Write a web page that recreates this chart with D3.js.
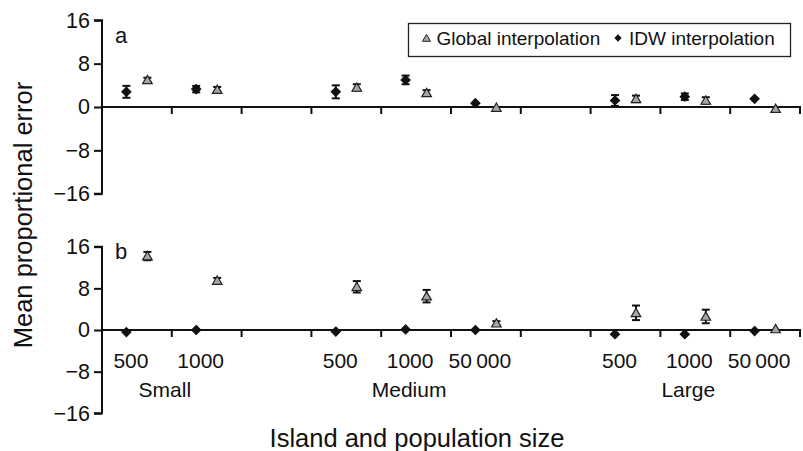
<!DOCTYPE html>
<html>
<head>
<meta charset="utf-8">
<script src="https://cdn.jsdelivr.net/npm/d3@7"></script>
<style>
  body { margin: 0; background: #fff; }
  text { font-family: "Liberation Sans", Arial, Helvetica, sans-serif; fill: #111; }
</style>
</head>
<body>
<div id="chart"></div>
<script>
// slots along the x axis (two empty slots separate the island sizes)
const slots = ["S500", "S1000", "gap1", "M500", "M1000", "M50000", "gap2", "L500", "L1000", "L50000"];
const categories = ["S500", "S1000", "M500", "M1000", "M50000", "L500", "L1000", "L50000"];
const tickLabels = ["500", "1000", "500", "1000", "50\u2009000", "500", "1000", "50\u2009000"];
const groups = [
  { name: "Small", slots: ["S500", "S1000"] },
  { name: "Medium", slots: ["M500", "M1000", "M50000"] },
  { name: "Large", slots: ["L500", "L1000", "L50000"] }
];

// panel a
const idwA = [2.8, 3.3, 2.8, 5.0, 0.7, 1.2, 1.9, 1.5];
const idwAErr = [1.1, 0.6, 1.2, 0.8, 0, 1.0, 0.6, 0];
const globalA = [5.0, 3.2, 3.6, 2.6, -0.1, 1.5, 1.2, -0.3];
const globalAErr = [0.4, 0.5, 0.6, 0.5, 0, 0.6, 0.6, 0];

// panel b
const idwB = [-0.4, 0.0, -0.3, 0.1, 0.0, -0.8, -0.8, -0.2];
const idwBErr = [0, 0, 0, 0, 0, 0, 0, 0];
const globalB = [14.2, 9.5, 8.3, 6.5, 1.3, 3.3, 2.6, 0.2];
const globalBErr = [0.8, 0.5, 1.1, 1.2, 0.4, 1.4, 1.3, 0];

const yTicks = [-16, -8, 0, 8, 16];

const width = 803, height = 451;
const svg = d3.select("#chart").append("svg")
  .attr("width", width)
  .attr("height", height);

const x = d3.scaleBand().domain(slots).range([102, 800]).padding(0);
const bw = x.bandwidth();
const sub = d3.scalePoint().domain(["IDW", "Global"]).range([bw / 2 - 10.5, bw / 2 + 10.5]);

const panels = [
  { label: "a", top: 20.3, bottom: 193.7, idw: idwA, idwErr: idwAErr, glob: globalA, globErr: globalAErr, showTicks: false },
  { label: "b", top: 246.7, bottom: 413.3, idw: idwB, idwErr: idwBErr, glob: globalB, globErr: globalBErr, showTicks: true }
];

const diamondType = d3.symbolDiamond2 || d3.symbolDiamond;
const diamond = d3.symbol().type(diamondType).size(52);
const triangle = d3.symbol().type(d3.symbolTriangle).size(40);

panels.forEach(p => {
  const y = d3.scaleLinear().domain([-16, 16]).range([p.bottom, p.top]);
  const g = svg.append("g");

  // y axis
  const yAxis = g.append("g")
    .attr("transform", `translate(${x.range()[0]},0)`)
    .call(d3.axisLeft(y).tickValues(yTicks).tickSize(8).tickPadding(4)
      .tickFormat(d => d < 0 ? "\u2212" + Math.abs(d) : d));
  yAxis.select(".domain").attr("stroke", "#111").attr("stroke-width", 2)
    .attr("d", `M-8,${y(16)}H0V${y(-16)}H-8`);
  yAxis.selectAll(".tick line").attr("stroke", "#111").attr("stroke-width", 2);
  yAxis.selectAll(".tick text").attr("font-size", 21.5).style("font-family", "'Liberation Sans', Arial, sans-serif").attr("fill", "#111");

  // zero line with ticks
  g.append("line")
    .attr("x1", x.range()[0]).attr("x2", x.range()[1] + 1)
    .attr("y1", y(0)).attr("y2", y(0))
    .attr("stroke", "#111").attr("stroke-width", 2);
  g.selectAll(".xtick").data(slots).enter().append("line")
    .attr("x1", d => x(d) + bw).attr("x2", d => x(d) + bw)
    .attr("y1", y(0)).attr("y2", y(0) + 7)
    .attr("stroke", "#111").attr("stroke-width", 2);

  // panel letter
  g.append("text").attr("x", 115).attr("y", p.label === "a" ? 43 : 259)
    .attr("font-size", 22).text(p.label);

  const series = [
    { key: "IDW", vals: p.idw, err: p.idwErr, sym: diamond, fill: "#111", stroke: "#111" },
    { key: "Global", vals: p.glob, err: p.globErr, sym: triangle, fill: "#a6a6a6", stroke: "#222" }
  ];

  series.forEach(s => {
    const pts = categories.map((c, i) => ({ cx: x(c) + sub(s.key), v: s.vals[i], e: s.err[i] }));
    const eb = g.append("g").selectAll("g").data(pts.filter(d => d.e > 0)).enter().append("g");
    eb.append("line")
      .attr("x1", d => d.cx).attr("x2", d => d.cx)
      .attr("y1", d => y(d.v + d.e)).attr("y2", d => y(d.v - d.e))
      .attr("stroke", "#111").attr("stroke-width", 2);
    eb.append("line")
      .attr("x1", d => d.cx - 4).attr("x2", d => d.cx + 4)
      .attr("y1", d => y(d.v + d.e)).attr("y2", d => y(d.v + d.e))
      .attr("stroke", "#111").attr("stroke-width", 2);
    eb.append("line")
      .attr("x1", d => d.cx - 4).attr("x2", d => d.cx + 4)
      .attr("y1", d => y(d.v - d.e)).attr("y2", d => y(d.v - d.e))
      .attr("stroke", "#111").attr("stroke-width", 2);

    g.append("g").selectAll("path").data(pts).enter().append("path")
      .attr("d", s.sym)
      .attr("transform", d => `translate(${d.cx},${y(d.v) + (s.key === "Global" ? 1 : 0)})`)
      .attr("fill", s.fill).attr("stroke", s.stroke).attr("stroke-width", 1.2);
  });

  if (p.showTicks) {
    g.selectAll(".xlab").data(categories).enter().append("text")
      .attr("x", (d, i) => x(d) + bw / 2 - 6)
      .attr("y", 368)
      .attr("text-anchor", "middle")
      .attr("font-size", 21)
      .text((d, i) => tickLabels[i]);
    g.selectAll(".glab").data(groups).enter().append("text")
      .attr("x", d => (x(d.slots[0]) + x(d.slots[d.slots.length - 1]) + bw) / 2 - 7)
      .attr("y", 397)
      .attr("text-anchor", "middle")
      .attr("font-size", 21)
      .text(d => d.name);
  }
});

// legend
const leg = svg.append("g");
leg.append("rect").attr("x", 408.5).attr("y", 23.5).attr("width", 382).attr("height", 33)
  .attr("fill", "#fff").attr("stroke", "#222").attr("stroke-width", 1.3);
leg.append("path").attr("d", triangle.size(28)).attr("transform", "translate(426.5,39)")
  .attr("fill", "#a6a6a6").attr("stroke", "#222").attr("stroke-width", 1);
leg.append("text").attr("x", 436.5).attr("y", 45).attr("font-size", 19).text("Global interpolation");
leg.append("path").attr("d", diamond.size(34)).attr("transform", "translate(618,38)")
  .attr("fill", "#111");
leg.append("text").attr("x", 629).attr("y", 45).attr("font-size", 19).text("IDW interpolation");

// axis titles
svg.append("text")
  .attr("transform", "translate(32,215) rotate(-90)")
  .attr("text-anchor", "middle").attr("font-size", 25.5)
  .text("Mean proportional error");
svg.append("text")
  .attr("x", 417).attr("y", 447)
  .attr("text-anchor", "middle").attr("font-size", 25.5)
  .text("Island and population size");
</script>
</body>
</html>
